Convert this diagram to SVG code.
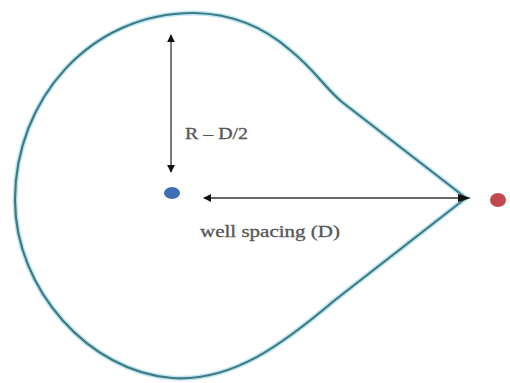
<svg xmlns="http://www.w3.org/2000/svg" width="510" height="383" viewBox="0 0 510 383">
<defs>
<marker id="ah" viewBox="0 0 10 10" refX="9" refY="5" markerWidth="8" markerHeight="8" orient="auto-start-reverse" markerUnits="userSpaceOnUse"><path d="M0,0 L10,5 L0,10 Z" fill="#111"/></marker>
</defs>
<style>
.lbl{font-family:"Liberation Serif",serif;font-size:17px;fill:#555;stroke:#555;stroke-width:0.3}
.ln{stroke:#333;stroke-width:1.3;fill:none}
.bd{fill:none;stroke-linejoin:round}
</style>
<rect width="510" height="383" fill="#fff"/>
<g id="boundary">
<path class="bd" d="M466 198 L342 102 C325 88 315 70 290 50 C265 28 235 14 195 13 C90 12 15 100 15 200 C15 290 90 372 172 378 C232 382 282 345 335 300 Z" stroke="#bfe6f0" stroke-width="5"/>
<path class="bd" d="M466 198 L342 102 C325 88 315 70 290 50 C265 28 235 14 195 13 C90 12 15 100 15 200 C15 290 90 372 172 378 C232 382 282 345 335 300 Z" stroke="#3d7a86" stroke-width="2.2"/>
</g>
<g id="connectors">
<line class="ln" x1="171" y1="35" x2="171" y2="172" marker-start="url(#ah)" marker-end="url(#ah)"/>
<line class="ln" x1="462" y1="198" x2="204" y2="198" marker-end="url(#ah)"/>
<path d="M458 194 L471 198 L458 202 Z" fill="#111"/>
</g>
<g id="well1"><ellipse cx="172" cy="193" rx="8" ry="6" fill="#3f6fb5"/></g>
<g id="well2"><ellipse cx="498" cy="200" rx="8" ry="7" fill="#c0494f"/></g>
<g id="label-r"><text class="lbl" x="185" y="139" textLength="63" lengthAdjust="spacingAndGlyphs">R – D/2</text></g>
<g id="label-d"><text class="lbl" x="200" y="237" textLength="140" lengthAdjust="spacingAndGlyphs">well spacing (D)</text></g>
</svg>
